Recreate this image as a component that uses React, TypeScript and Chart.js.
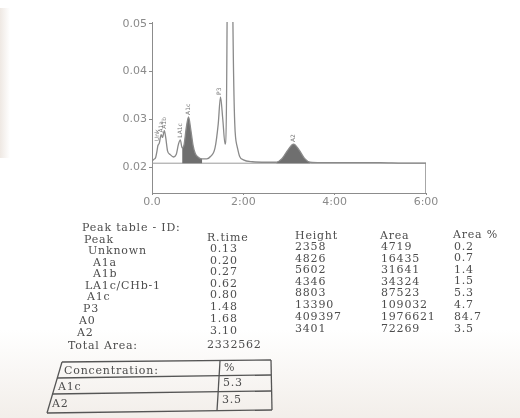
import React, { useEffect, useRef } from "react";
import { Chart, registerables } from "chart.js";

Chart.register(...registerables);

// ---- chromatogram data (minutes, absorbance) ----
const traceTimes = [
  0.0, 0.04, 0.08, 0.11, 0.13, 0.16, 0.2, 0.23, 0.27, 0.3, 0.34, 0.4, 0.47, 0.53, 0.58, 0.62, 0.66,
  0.7, 0.75, 0.8, 0.85, 0.9, 0.95, 1.02, 1.1, 1.2, 1.28, 1.38, 1.45, 1.5, 1.55, 1.6, 1.645, 1.72,
  1.77, 1.86, 1.92, 2.0, 2.2, 2.5, 2.72, 2.85, 2.97, 3.1, 3.22, 3.34, 3.46, 3.7, 4.0, 4.5, 5.0, 5.5, 6.0,
];
const traceSignal = [
  0.0212, 0.0216, 0.022, 0.0234, 0.0245, 0.025, 0.0268, 0.0262, 0.0276, 0.0262, 0.0234, 0.0226,
  0.0221, 0.0226, 0.0248, 0.0257, 0.024, 0.0246, 0.0282, 0.0305, 0.0278, 0.0245, 0.0228, 0.022,
  0.0217, 0.0217, 0.0222, 0.024, 0.029, 0.0347, 0.03, 0.0248, 0.052, 0.43, 0.052, 0.0245, 0.0222,
  0.0215, 0.0211, 0.021, 0.021, 0.0218, 0.0235, 0.0248, 0.0236, 0.0218, 0.021, 0.0209, 0.0209,
  0.0209, 0.0209, 0.0208, 0.0208,
];
const baselineLevel = 0.0208;
const a1cFillRange = [0.66, 1.1];
const a2FillRange = [2.72, 3.46];

const yMin = 0.01455;
const yMax = 0.0504;
const yTicks = [0.02, 0.03, 0.04, 0.05];
const xTicks = [0, 2, 4, 6];
const xTickLabels = ["0.0", "2:00", "4:00", "6:00"];

// ---- peak table ----
const peakNames = ["Unknown", "A1a", "A1b", "LA1c/CHb-1", "A1c", "P3", "A0", "A2"];
const peakTags = ["Unk", "A1a", "A1b", "LA1c", "A1c", "P3", "A0", "A2"];
const retentionTimes = ["0.13", "0.20", "0.27", "0.62", "0.80", "1.48", "1.68", "3.10"];
const peakHeights = ["2358", "4826", "5602", "4346", "8803", "13390", "409397", "3401"];
const peakAreas = ["4719", "16435", "31641", "34324", "87523", "109032", "1976621", "72269"];
const areaPercents = ["0.2", "0.7", "1.4", "1.5", "5.3", "4.7", "84.7", "3.5"];
const totalArea = "2332562";
const concentrationNames = ["A1c", "A2"];
const concentrationValues = ["5.3", "3.5"];

const pts = (ts: number[], vs: number[]) => ts.map((t, i) => ({ x: t, y: vs[i] }));
const rangePts = (r: number[]) =>
  traceTimes
    .map((t, i) => ({ x: t, y: traceSignal[i] }))
    .filter((p) => p.x >= r[0] - 1e-9 && p.x <= r[1] + 1e-9);

const peakLabelPlugin = {
  id: "peakLabels",
  afterDatasetsDraw(chart: any) {
    const { ctx, scales } = chart;
    const xs = scales.x;
    const ys = scales.y;
    ctx.save();
    ctx.font = "6px 'DejaVu Sans'";
    ctx.fillStyle = "#7a7a7a";
    ctx.textBaseline = "middle";
    ctx.textAlign = "left";
    peakTags.forEach((tag, i) => {
      const t = parseFloat(retentionTimes[i]);
      let best = -Infinity;
      traceTimes.forEach((tt, j) => {
        if (Math.abs(tt - t) <= 0.035 && traceSignal[j] > best) best = traceSignal[j];
      });
      if (!(best < ys.max)) return;
      const px = xs.getPixelForValue(t);
      const py = ys.getPixelForValue(best) - 2;
      ctx.save();
      ctx.translate(px, py);
      ctx.rotate(-Math.PI / 2);
      ctx.fillText(tag, 0, 0);
      ctx.restore();
    });
    ctx.restore();
  },
};

const txt: React.CSSProperties = {
  position: "absolute",
  fontFamily: "'DejaVu Serif', serif",
  fontSize: 11,
  letterSpacing: "0.8px",
  color: "#4d4d4d",
  whiteSpace: "nowrap",
  lineHeight: "12px",
};

function T({ x, y, children }: { x: number; y: number; children: React.ReactNode }) {
  return <div style={{ ...txt, left: x, top: y - 6 }}>{children}</div>;
}

export default function App() {
  const ref = useRef<HTMLCanvasElement | null>(null);

  useEffect(() => {
    if (!ref.current) return;
    const gray = "#8c8c8c";
    const chart = new Chart(ref.current, {
      type: "line",
      data: {
        datasets: [
          {
            label: "trace",
            data: pts(traceTimes, traceSignal),
            borderColor: "#8a8a8a",
            borderWidth: 1.3,
            pointRadius: 0,
            cubicInterpolationMode: "monotone",
            fill: false,
            order: 1,
          },
          {
            label: "A1c area",
            data: rangePts(a1cFillRange),
            borderColor: "rgba(0,0,0,0)",
            borderWidth: 0,
            backgroundColor: "#6f6f6f",
            pointRadius: 0,
            cubicInterpolationMode: "monotone",
            fill: { value: baselineLevel },
            order: 2,
          },
          {
            label: "A2 area",
            data: rangePts(a2FillRange),
            borderColor: "rgba(0,0,0,0)",
            borderWidth: 0,
            backgroundColor: "#6f6f6f",
            pointRadius: 0,
            cubicInterpolationMode: "monotone",
            fill: { value: baselineLevel },
            order: 2,
          },
          {
            label: "baseline",
            data: [
              { x: 0, y: baselineLevel },
              { x: 6, y: baselineLevel },
            ],
            borderColor: "#9a9a9a",
            borderWidth: 1,
            pointRadius: 0,
            fill: false,
            order: 3,
          },
          {
            label: "edge",
            data: [
              { x: 6, y: baselineLevel },
              { x: 6, y: yMin },
            ],
            borderColor: "#9a9a9a",
            borderWidth: 1,
            pointRadius: 0,
            fill: false,
            order: 3,
          },
        ] as any,
      },
      options: {
        animation: false,
        responsive: false,
        maintainAspectRatio: false,
        parsing: false,
        normalized: true,
        layout: { padding: { left: 112, right: 94, top: 22, bottom: 195 } },
        plugins: { legend: { display: false }, tooltip: { enabled: false }, title: { display: false } },
        scales: {
          x: {
            type: "linear",
            min: 0,
            max: 6,
            afterBuildTicks: (s: any) => {
              s.ticks = xTicks.map((v) => ({ value: v }));
            },
            afterFit: (s: any) => {
              s.height = 30;
            },
            ticks: {
              callback: (_v: any, i: number) => xTickLabels[i],
              color: "#8a8a8a",
              font: { family: "'DejaVu Sans'", size: 11 },
              padding: 1,
              maxRotation: 0,
            },
            grid: { drawOnChartArea: false, tickLength: 2, color: gray },
            border: { display: true, color: gray, width: 1 },
          },
          y: {
            type: "linear",
            min: yMin,
            max: yMax,
            afterBuildTicks: (s: any) => {
              s.ticks = yTicks.map((v) => ({ value: v }));
            },
            afterFit: (s: any) => {
              s.width = 40;
            },
            ticks: {
              callback: (v: any) => Number(v).toFixed(2),
              color: "#8a8a8a",
              font: { family: "'DejaVu Sans'", size: 11 },
              padding: 2,
            },
            grid: { drawOnChartArea: false, tickLength: 3, color: gray },
            border: { display: true, color: gray, width: 1 },
          },
        },
      } as any,
      plugins: [peakLabelPlugin],
    });
    return () => chart.destroy();
  }, []);

  const nameRowY = [251, 262.5, 274, 285.5, 297, 309, 321, 333];
  const nameX = [88, 93, 93, 85, 87, 83, 79, 77];

  return (
    <div
      style={{
        position: "fixed",
        left: 0,
        top: 0,
        width: 520,
        height: 418,
        overflow: "hidden",
        background: "#ffffff",
      }}
    >
      <div
        style={{
          position: "absolute",
          left: 0,
          top: 330,
          width: 520,
          height: 88,
          background: "linear-gradient(to bottom, rgba(235,228,220,0) 0%, rgba(232,224,216,0.55) 100%)",
        }}
      />
      <div
        style={{
          position: "absolute",
          left: 0,
          top: 8,
          width: 10,
          height: 150,
          background: "linear-gradient(to right, rgba(190,165,145,0.25) 0%, rgba(255,255,255,0) 100%)",
        }}
      />
      <canvas ref={ref} width={520} height={418} style={{ position: "absolute", left: 0, top: 0 }} />

      <T x={82} y={228}>Peak table - ID:</T>
      <T x={84} y={240}>Peak</T>
      <T x={207} y={238}>R.time</T>
      <T x={295} y={236}>Height</T>
      <T x={380} y={236}>Area</T>
      <T x={453} y={235}>Area %</T>
      {peakNames.map((n, i) => (
        <React.Fragment key={n}>
          <T x={nameX[i]} y={nameRowY[i]}>{n}</T>
          <T x={210} y={nameRowY[i] - 2}>{retentionTimes[i]}</T>
          <T x={295} y={nameRowY[i] - 4}>{peakHeights[i]}</T>
          <T x={381} y={nameRowY[i] - 4}>{peakAreas[i]}</T>
          <T x={454} y={nameRowY[i] - 4.5}>{areaPercents[i]}</T>
        </React.Fragment>
      ))}
      <T x={68} y={346}>Total Area:</T>
      <T x={207} y={345}>{totalArea}</T>

      <svg width={520} height={418} style={{ position: "absolute", left: 0, top: 0 }}>
        <g stroke="#555" strokeWidth={1.3} fill="none">
          <line x1={62} y1={362} x2={271} y2={360} />
          <line x1={57} y1={378} x2={271} y2={375} />
          <line x1={52} y1={394} x2={271} y2={391} />
          <line x1={47} y1={413} x2={272} y2={410} />
          <line x1={62} y1={362} x2={47} y2={413} />
          <line x1={220} y1={361} x2={217} y2={411} />
          <line x1={271} y1={360} x2={272} y2={410} />
        </g>
      </svg>
      <T x={64} y={371}>Concentration:</T>
      <T x={224} y={368}>%</T>
      {concentrationNames.map((n, i) => (
        <React.Fragment key={n}>
          <T x={i === 0 ? 58 : 52} y={i === 0 ? 387 : 404}>{n}</T>
          <T x={i === 0 ? 223 : 222} y={i === 0 ? 383 : 400}>{concentrationValues[i]}</T>
        </React.Fragment>
      ))}
    </div>
  );
}
